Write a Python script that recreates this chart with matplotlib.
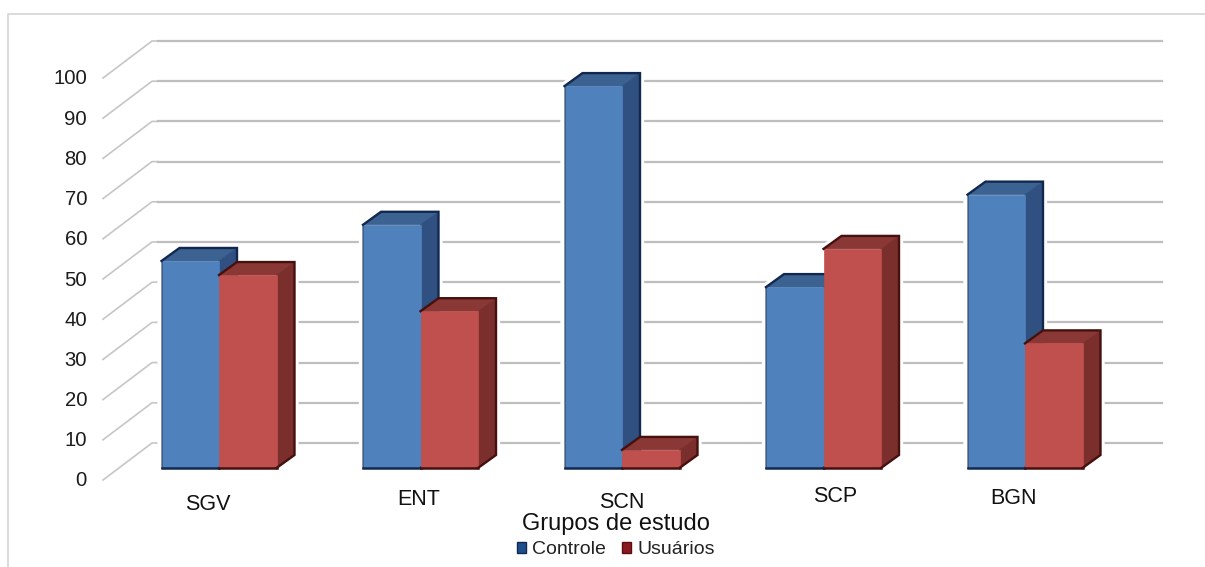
import matplotlib
matplotlib.use("Agg")
import matplotlib.pyplot as plt
from matplotlib.patches import Polygon, Patch

plt.rcParams['font.family'] = ['Liberation Sans', 'DejaVu Sans']

categorias = ["SGV", "ENT", "SCN", "SCP", "BGN"]
controle = [51.5, 60.5, 95, 45, 68]
usuarios = [48, 39, 4.5, 54.5, 31]
ticks = [0, 10, 20, 30, 40, 50, 60, 70, 80, 90, 100]

# pixel layout of the pseudo 3d box
W, H = 1205, 567
BASE = 468
UNIT = 4.02
GROUP0 = 219
GROUP_STEP = 201.5
BAR_W = 57.5
DX = 18
DY = 13 / UNIT


def py(p):
    return (BASE - p) / UNIT


fig = plt.figure(figsize=(W / 100, H / 100), dpi=100)
ax = fig.add_axes([0, 0, 1, 1])
ax.set_xlim(0, W)
ax.set_ylim(py(H), py(0))
ax.axis("off")

# outer frame, only top and left show
ax.plot([8, 8, W], [py(H), py(14), py(14)], color="#D4D4D4", lw=1.2, zorder=0)

# gridlines: slanted floor piece + back wall piece
for t in ticks:
    front = py(480) + t
    back = py(443) + t
    ax.plot([103, 152, 158], [front, back, back], color="#C6C6C6", lw=1.2, zorder=1,
            solid_joinstyle="round")
    ax.plot([158, 1162], [back, back], color="#BEBEBE", lw=1.6, zorder=1)
    ax.text(87, py(481) + t, str(t), ha="right", va="center", fontsize=14.6, color="#1c1c1c")


def halo(x0, v):
    # white halo keeps the gridlines off the bar
    x1 = x0 + BAR_W
    ax.add_patch(Polygon([(x0, 0), (x0, v), (x0 + DX, v + DY), (x1 + DX, v + DY), (x1 + DX, DY), (x1, 0)],
                         closed=True, fc="white", ec="white", lw=6, zorder=2))


def bar3d(x0, v, face, top, side, edge, z, left_rim):
    x1 = x0 + BAR_W
    ax.add_patch(Polygon([(x0, v), (x0 + DX, v + DY), (x1 + DX, v + DY), (x1, v)],
                         closed=True, fc=top, ec=top, lw=0.5, zorder=z))
    ax.add_patch(Polygon([(x1, 0), (x1, v), (x1 + DX, v + DY), (x1 + DX, DY)],
                         closed=True, fc=side, ec=side, lw=0.5, zorder=z))
    ax.bar(x0, v, width=BAR_W, align="edge", color=face, edgecolor=face, lw=0.5, zorder=z + 1)
    # dark rim along the back and the bottom
    ax.plot([x0, x0 + DX, x1 + DX, x1 + DX, x1],
            [v, v + DY, v + DY, DY, 0], color=edge, lw=1.7, zorder=z + 1,
            solid_joinstyle="miter")
    ax.plot([x0, x1], [0, 0], color=edge, lw=1.8, zorder=z + 2)
    if left_rim:
        ax.plot([x0, x0], [0, v], color=edge, lw=1.2, alpha=0.6, zorder=z + 2)


for i in range(len(categorias)):
    xc = GROUP0 + GROUP_STEP * i
    halo(xc - BAR_W, controle[i])
    halo(xc, usuarios[i])
    bar3d(xc - BAR_W, controle[i], "#4F81BD", "#3B6290", "#2F5080", "#12294F", 3, True)
    bar3d(xc, usuarios[i], "#C0504D", "#8A3836", "#7A2F2D", "#45100E", 6, False)

# category labels are not quite evenly placed
label_x = [208, 419, 622, 835, 1013]
label_y = [504, 499, 502, 496, 498]
for name, lx, ly in zip(categorias, label_x, label_y):
    ax.text(lx, py(ly + 0.5), name, ha="center", va="center", fontsize=15.5, color="#111111", zorder=100)

ax.text(616, py(524), "Grupos de estudo", ha="center", va="center", fontsize=17, color="#111111", zorder=100)

handles = [Patch(fc="#1F4E8C", ec="#12294F", label="Controle"),
           Patch(fc="#8B1A20", ec="#5A0E12", label="Usuários")]
ax.legend(handles=handles, loc="center", bbox_to_anchor=(616 / W, 1 - 550 / H), ncol=2, frameon=False,
          fontsize=14, handlelength=0.45, handleheight=0.45, handletextpad=0.3, columnspacing=0.85,
          labelcolor="#222222", borderpad=0, borderaxespad=0)

fig.savefig("out.png", dpi=100)
